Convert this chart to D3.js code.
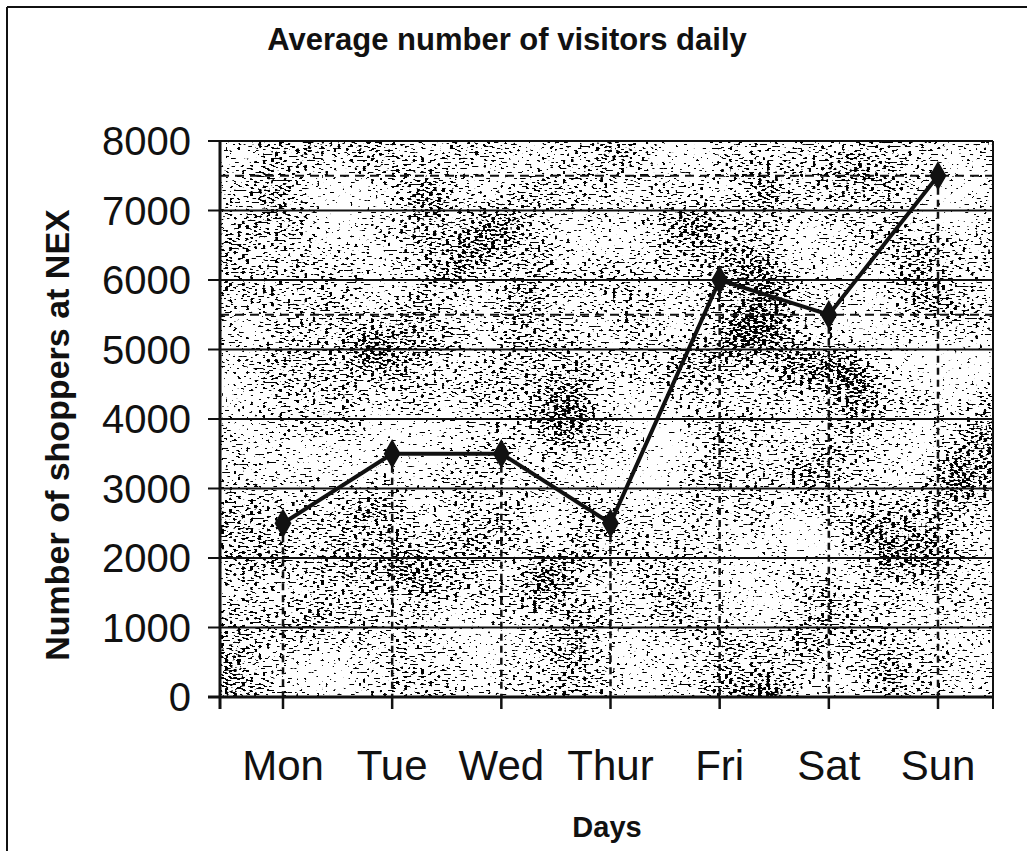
<!DOCTYPE html>
<html>
<head>
<meta charset="utf-8">
<script src="https://cdn.jsdelivr.net/npm/d3@7"></script>
<style>
  body { margin: 0; background: #fff; }
  text { font-family: "Liberation Sans", Arial, sans-serif; fill: #111; }
</style>
</head>
<body>
<script>
// data
var days = ["Mon", "Tue", "Wed", "Thur", "Fri", "Sat", "Sun"];
var shoppers = [2500, 3500, 3500, 2500, 6000, 5500, 7500];
var yTicks = [0, 1000, 2000, 3000, 4000, 5000, 6000, 7000, 8000];
var dashedLevels = [7500, 5500];

var width = 1027, height = 851;
var plot = {left: 220, right: 993, top: 141, bottom: 697};

var svg = d3.select("body").append("svg")
    .attr("width", width)
    .attr("height", height);

var x = d3.scalePoint()
    .domain(days)
    .range([283, 938]);

var y = d3.scaleLinear()
    .domain([0, 8000])
    .range([plot.bottom, plot.top]);

// speckled background of the scanned plot area
var opaque = "1 0 0 0 0  0 1 0 0 0  0 0 1 0 0  0 0 0 0 1";
var f = svg.append("defs").append("filter")
    .attr("id", "stipple")
    .attr("filterUnits", "userSpaceOnUse")
    .attr("color-interpolation-filters", "sRGB")
    .attr("x", plot.left).attr("y", plot.top)
    .attr("width", plot.right - plot.left).attr("height", plot.bottom - plot.top);
f.append("feTurbulence")
    .attr("type", "fractalNoise")
    .attr("baseFrequency", "0.24 0.5")
    .attr("numOctaves", 1)
    .attr("seed", 3);
f.append("feColorMatrix")
    .attr("type", "matrix").attr("values", opaque)
    .attr("result", "fine");
f.append("feTurbulence")
    .attr("type", "fractalNoise")
    .attr("baseFrequency", "0.01")
    .attr("numOctaves", 2)
    .attr("seed", 7);
f.append("feColorMatrix")
    .attr("type", "matrix").attr("values", opaque)
    .attr("result", "coarse");
f.append("feComposite")
    .attr("in", "fine").attr("in2", "coarse")
    .attr("operator", "arithmetic")
    .attr("k2", 1).attr("k3", 0.45).attr("k4", -0.225)
    .attr("result", "mix");
f.append("feColorMatrix")
    .attr("in", "mix")
    .attr("type", "matrix")
    .attr("values", "0 0 0 0 0  0 0 0 0 0  0 0 0 0 0  30 0 0 0 -17.8");

svg.append("rect")
    .attr("x", plot.left).attr("y", plot.top)
    .attr("width", plot.right - plot.left).attr("height", plot.bottom - plot.top)
    .attr("fill", "#fff");
svg.append("rect")
    .attr("x", plot.left).attr("y", plot.top)
    .attr("width", plot.right - plot.left).attr("height", plot.bottom - plot.top)
    .attr("fill", "#000")
    .attr("filter", "url(#stipple)");

// outer frame (only top and left edges show)
svg.append("line")
    .attr("x1", 7).attr("x2", width).attr("y1", 7).attr("y2", 7)
    .attr("stroke", "#111").attr("stroke-width", 2);
svg.append("line")
    .attr("x1", 7).attr("x2", 7).attr("y1", 7).attr("y2", height)
    .attr("stroke", "#111").attr("stroke-width", 2);

// gridlines + y ticks
svg.append("g")
    .selectAll("line")
    .data(yTicks)
    .enter().append("line")
    .attr("x1", plot.left - 12)
    .attr("x2", plot.right)
    .attr("y1", function(d){ return y(d); })
    .attr("y2", function(d){ return y(d); })
    .attr("stroke", "#111")
    .attr("stroke-width", 2);

svg.append("g")
    .selectAll("text")
    .data(yTicks)
    .enter().append("text")
    .attr("x", 191)
    .attr("y", function(d){ return y(d); })
    .attr("dy", "0.36em")
    .attr("text-anchor", "end")
    .style("font-size", "40px")
    .text(function(d){ return d; });

// dashed guide lines
svg.append("g")
    .selectAll("line")
    .data(dashedLevels)
    .enter().append("line")
    .attr("x1", plot.left).attr("x2", plot.right)
    .attr("y1", function(d){ return y(d); })
    .attr("y2", function(d){ return y(d); })
    .attr("stroke", "#111")
    .attr("stroke-width", 2)
    .attr("stroke-dasharray", "9,6");

svg.append("g")
    .selectAll("line")
    .data(days)
    .enter().append("line")
    .attr("x1", function(d){ return x(d); })
    .attr("x2", function(d){ return x(d); })
    .attr("y1", function(d, i){ return y(shoppers[i]); })
    .attr("y2", plot.bottom)
    .attr("stroke", "#111")
    .attr("stroke-width", 2.5)
    .attr("stroke-dasharray", "7,5");

// plot border, axes
svg.append("line")
    .attr("x1", plot.right).attr("x2", plot.right)
    .attr("y1", plot.top).attr("y2", plot.bottom + 12)
    .attr("stroke", "#111").attr("stroke-width", 2);
svg.append("line")
    .attr("x1", plot.left).attr("x2", plot.right)
    .attr("y1", plot.top).attr("y2", plot.top)
    .attr("stroke", "#111").attr("stroke-width", 1.6);
svg.append("line")
    .attr("x1", plot.left).attr("x2", plot.left)
    .attr("y1", plot.top).attr("y2", plot.bottom + 12)
    .attr("stroke", "#111").attr("stroke-width", 3);
svg.append("line")
    .attr("x1", plot.left - 12).attr("x2", plot.right)
    .attr("y1", plot.bottom).attr("y2", plot.bottom)
    .attr("stroke", "#111").attr("stroke-width", 3);

svg.append("g")
    .selectAll("line")
    .data(days)
    .enter().append("line")
    .attr("x1", function(d){ return x(d); })
    .attr("x2", function(d){ return x(d); })
    .attr("y1", plot.bottom)
    .attr("y2", plot.bottom + 12)
    .attr("stroke", "#111")
    .attr("stroke-width", 2.5);

svg.append("g")
    .selectAll("text")
    .data(days)
    .enter().append("text")
    .attr("x", function(d){ return x(d); })
    .attr("y", 780)
    .attr("text-anchor", "middle")
    .style("font-size", "42px")
    .text(function(d){ return d; });

// the series
var line = d3.line()
    .x(function(d, i){ return x(days[i]); })
    .y(function(d){ return y(d); });

svg.append("path")
    .datum(shoppers)
    .attr("d", line)
    .attr("fill", "none")
    .attr("stroke", "#111")
    .attr("stroke-width", 4);

var diamond = d3.symbol().type(d3.symbolDiamond).size(200)();

svg.append("g")
    .selectAll("path")
    .data(shoppers)
    .enter().append("path")
    .attr("d", diamond)
    .attr("transform", function(d, i){ return "translate(" + x(days[i]) + "," + y(d) + ")"; })
    .attr("fill", "#111")
    .attr("stroke", "#111")
    .attr("stroke-width", 1.5);

// titles
svg.append("text")
    .attr("x", 507)
    .attr("y", 50)
    .attr("text-anchor", "middle")
    .style("font-size", "31px")
    .style("font-weight", "bold")
    .text("Average number of visitors daily");

svg.append("text")
    .attr("transform", "translate(69,435) rotate(-90)")
    .attr("text-anchor", "middle")
    .style("font-size", "34px")
    .style("font-weight", "bold")
    .text("Number of shoppers at NEX");

svg.append("text")
    .attr("x", 607)
    .attr("y", 837)
    .attr("text-anchor", "middle")
    .style("font-size", "29px")
    .style("font-weight", "bold")
    .text("Days");
</script>
</body>
</html>
